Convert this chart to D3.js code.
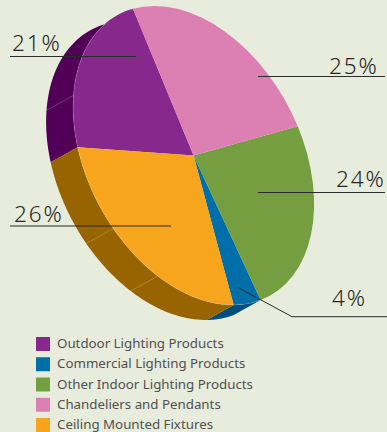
<!DOCTYPE html>
<html>
<head>
<meta charset="utf-8">
<script src="https://cdn.jsdelivr.net/npm/d3@7"></script>
<style>
  html, body { margin: 0; padding: 0; background: #e8ecdc; overflow: hidden; }
  svg { display: block; }
  text { font-family: "Noto Sans", sans-serif; }
</style>
</head>
<body>
<div id="chart"></div>
<script>
// Product mix, in legend order
const categories = [
  "Outdoor Lighting Products",
  "Commercial Lighting Products",
  "Other Indoor Lighting Products",
  "Chandeliers and Pendants",
  "Ceiling Mounted Fixtures"
];
const shares = [21, 4, 24, 25, 26];
// Slices run clockwise in this order around the disc
const sliceOrder = [0, 3, 2, 1, 4];
const topColors = ["#86288c", "#006fa9", "#759e41", "#dc80b3", "#f7a51c"];
const wallColors = ["#520057", "#004d7f", null, null, "#976400"];
// Panel joints on the side wall, degrees around the disc
const seamAngles = [235.9, 260.4, 313.4];

const width = 387, height = 432;
const rad = Math.PI / 180;

// The disc is a tilted circle: an ellipse with its long axis leaning left
const cx = 193.6, cy = 155.5;
const semiLong = 160, semiShort = 107;
const axisLong = [-0.47, -0.88], axisShort = [0.88, -0.47];
const depth = [-27, 15];
const startAngle = -67.2 * rad;

const svg = d3.select("#chart").append("svg")
  .attr("width", width).attr("height", height);

const rim = (theta, offset = [0, 0]) => [
  cx + semiLong * Math.cos(theta) * axisLong[0] + semiShort * Math.sin(theta) * axisShort[0] + offset[0],
  cy + semiLong * Math.cos(theta) * axisLong[1] + semiShort * Math.sin(theta) * axisShort[1] + offset[1]
];

const pie = d3.pie()
  .sort((a, b) => sliceOrder.indexOf(a) - sliceOrder.indexOf(b))
  .value(i => shares[i])
  .startAngle(startAngle)
  .endAngle(startAngle + 2 * Math.PI);
const slices = pie(d3.range(categories.length));

// Side wall of the slices facing the viewer
const outline = d3.line();
const walls = svg.append("g");
slices.filter(d => wallColors[d.data]).forEach(d => {
  const steps = d3.range(0, 61).map(k => d.startAngle + (d.endAngle - d.startAngle) * k / 60);
  const front = steps.map(t => rim(t));
  const back = steps.map(t => rim(t, depth)).reverse();
  walls.append("path")
    .attr("d", outline(front.concat(back)) + "Z")
    .attr("fill", wallColors[d.data]);
});
walls.selectAll("line.seam").data(seamAngles).join("line")
  .attr("class", "seam")
  .attr("x1", a => rim(a * rad)[0]).attr("y1", a => rim(a * rad)[1])
  .attr("x2", a => rim(a * rad, depth)[0]).attr("y2", a => rim(a * rad, depth)[1])
  .attr("stroke", "#ffffff").attr("stroke-opacity", 0.3).attr("stroke-width", 0.7);

// Top face: d3.arc on a unit-100 circle, mapped onto the ellipse
const unit = 100;
const arc = d3.arc().innerRadius(0).outerRadius(unit);
const disc = svg.append("g").attr("transform",
  `matrix(${semiShort * axisShort[0] / unit},${semiShort * axisShort[1] / unit},` +
  `${-semiLong * axisLong[0] / unit},${-semiLong * axisLong[1] / unit},${cx},${cy})`);
disc.selectAll("path").data(slices).join("path")
  .attr("d", arc)
  .attr("fill", d => topColors[d.data]);

// Thin highlight where the top face meets the wall
slices.filter(d => wallColors[d.data]).forEach(d => {
  const steps = d3.range(0, 61).map(k => d.startAngle + (d.endAngle - d.startAngle) * k / 60);
  svg.append("path")
    .attr("d", outline(steps.map(t => rim(t))))
    .attr("fill", "none")
    .attr("stroke", "#ffffff").attr("stroke-opacity", 0.2).attr("stroke-width", 0.6);
});

// Leader lines and percentage labels
const leaders = [
  { points: [[10, 56.5], [136, 56.5]], stroke: "#2b2b2b", width: 1 },
  { points: [[258, 76.5], [385, 76.5]], stroke: "#2b2b2b", width: 1 },
  { points: [[258, 192.5], [385, 192.5]], stroke: "#2b2b2b", width: 1 },
  { points: [[10, 226], [171, 226]], stroke: "#2b2b2b", width: 1 },
  { points: [[238, 287.5], [292, 316.7], [387, 316.7]], stroke: "#2b2b2b", width: 1 }
];
svg.append("g").selectAll("path").data(leaders).join("path")
  .attr("d", d => outline(d.points))
  .attr("fill", "none")
  .attr("stroke", d => d.stroke)
  .attr("stroke-width", d => d.width);

const labelSpots = [
  { i: 0, x: 12, y: 51 },
  { i: 3, x: 329, y: 74 },
  { i: 2, x: 336, y: 187 },
  { i: 4, x: 14, y: 222 },
  { i: 1, x: 332, y: 306 }
];
svg.append("g").selectAll("text").data(labelSpots).join("text")
  .attr("x", d => d.x).attr("y", d => d.y)
  .attr("font-size", 22.5)
  .attr("font-weight", 300)
  .attr("letter-spacing", 1.9)
  .attr("fill", "#262626")
  .text(d => shares[d.i] + "%");

// Legend
const legendY = d3.scalePoint().domain(d3.range(categories.length)).range([337, 418]);
const legend = svg.append("g").selectAll("g").data(d3.range(categories.length)).join("g")
  .attr("transform", i => `translate(36,${legendY(i)})`);
legend.append("rect")
  .attr("width", 14).attr("height", 14)
  .attr("fill", i => topColors[i]);
legend.append("text")
  .attr("x", 21).attr("y", 11)
  .attr("font-size", 13.3)
  .attr("fill", "#505050")
  .text(i => categories[i]);
</script>
</body>
</html>
